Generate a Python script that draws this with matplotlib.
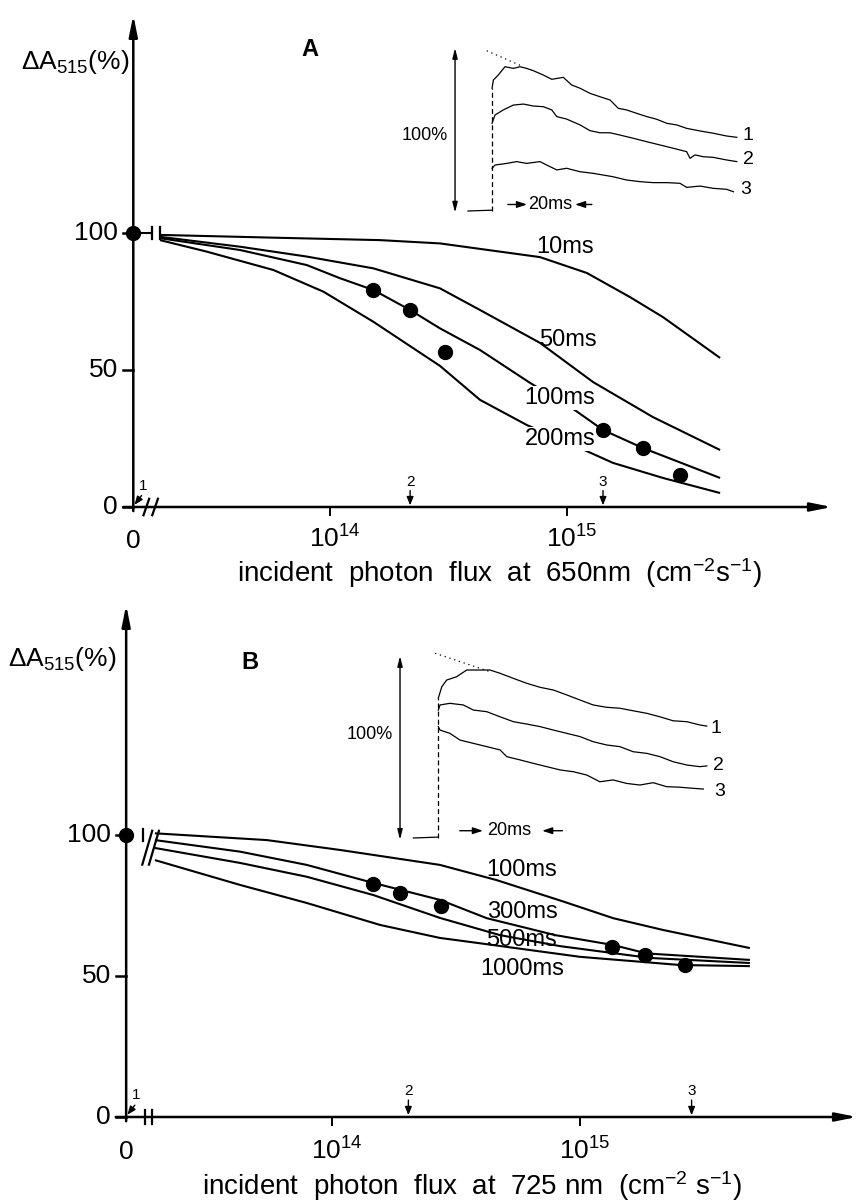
import matplotlib.pyplot as plt

plt.rcParams['font.family'] = ['Liberation Sans Narrow', 'Liberation Sans', 'DejaVu Sans']
plt.rcParams['mathtext.default'] = 'regular'

FIG_W, FIG_H = 858, 1203

# x values are log10(incident photon flux); the "0" flux sits left of the axis break
ZERO = 13.17

# ---------------- panel A : 650 nm ----------------
A_ms10_x = [13.283, 13.761, 14.211, 14.464, 14.886, 15.084, 15.266, 15.405, 15.646]
A_ms10_y = [99.3, 98.3, 97.4, 96.2, 91.2, 85.4, 76.6, 69.3, 54.4]
A_ms50_x = [13.283, 13.620, 13.902, 14.183, 14.464, 14.633, 14.886, 15.110, 15.363, 15.646]
A_ms50_y = [98.6, 95.0, 91.4, 87.1, 79.8, 71.9, 59.9, 45.6, 32.8, 20.8]
A_ms100_x = [13.283, 13.620, 13.902, 14.042, 14.183, 14.338, 14.464, 14.633, 14.844, 15.021, 15.152, 15.321, 15.646]
A_ms100_y = [98.1, 93.8, 88.3, 83.5, 79.2, 71.9, 65.2, 57.3, 45.3, 36.1, 28.1, 21.5, 10.6]
A_ms200_x = [13.283, 13.480, 13.761, 13.972, 14.183, 14.464, 14.633, 14.831, 15.055, 15.194, 15.405, 15.646]
A_ms200_y = [97.4, 93.2, 86.5, 78.6, 67.6, 51.5, 39.1, 29.9, 21.5, 16.1, 10.6, 5.1]
A_names = ['10ms', '50ms', '100ms', '200ms']
A_name_x = [14.992, 15.004, 14.970, 14.970]
A_name_y = [94.9, 60.9, 39.8, 24.8]
A_dots_x = [ZERO, 14.183, 14.338, 14.485, 15.152, 15.321, 15.477]
A_dots_y = [100, 79.2, 71.9, 56.6, 28.1, 21.5, 11.7]
A_marks_x = [14.338, 15.152]

# inset A : time (ms) after flash, signal (% of full scale)
A_tr1_t = [0, 0.6, 2.6, 5.4, 8.9, 11.7, 14.4, 17.2, 21.4, 24.9, 29.7, 33.2, 36.7, 40.8, 45.0, 49.2,
           52.6, 56.1, 60.3, 64.5, 68.6, 72.8, 77.0, 81.1, 86.7, 92.2, 97.8, 102.0]
A_tr1_a = [75.3, 80.4, 83.4, 88.5, 87.5, 88.5, 87.5, 86.1, 83.4, 80.8, 82.0, 77.3, 75.3, 72.2, 70.1, 68.1,
           63.0, 62.0, 59.9, 57.9, 56.3, 53.8, 52.8, 50.7, 49.1, 47.7, 46.0, 45.2]
A_tr2_t = [0, 1.25, 4.7, 8.9, 13.1, 17.2, 21.4, 24.9, 27.0, 31.1, 36.7, 40.8, 45.0, 49.2, 53.3, 58.9,
           64.5, 70.0, 75.5, 81.1, 82.5, 84.6, 88.1, 92.2, 97.8, 102.0]
A_tr2_a = [53.8, 58.9, 62.0, 65.0, 65.6, 64.4, 64.0, 62.0, 57.9, 56.4, 52.8, 49.3, 48.0, 48.0, 46.6, 44.6,
           42.5, 40.5, 38.5, 36.4, 32.3, 34.4, 33.3, 32.9, 31.3, 30.3]
A_tr3_t = [0, 1.25, 6.1, 10.3, 14.4, 20.0, 22.8, 27.0, 31.1, 36.7, 42.2, 50.5, 56.1, 61.7, 67.2, 72.8,
           78.3, 81.1, 86.7, 92.2, 97.8, 100.6]
A_tr3_a = [26.2, 28.2, 29.2, 30.3, 29.2, 30.3, 28.2, 25.2, 26.2, 24.1, 23.1, 21.0, 19.0, 18.0, 17.4, 17.4,
           17.0, 14.5, 15.3, 13.9, 13.3, 11.8]

# ---------------- panel B : 725 nm ----------------
B_ms100_x = [13.286, 13.737, 14.032, 14.435, 14.664, 14.933, 15.134, 15.336, 15.685]
B_ms100_y = [100.6, 98.2, 94.7, 89.4, 84.0, 76.4, 70.5, 66.3, 59.9]
B_ms300_x = [13.286, 13.629, 13.898, 14.167, 14.435, 14.624, 14.900, 15.133, 15.269, 15.685]
B_ms300_y = [98.2, 94.1, 89.4, 83.0, 77.0, 70.5, 64.5, 61.0, 58.0, 55.7]
B_ms500_x = [13.286, 13.629, 13.898, 14.167, 14.435, 14.677, 14.919, 15.282, 15.685]
B_ms500_y = [95.4, 90.1, 85.2, 78.7, 70.6, 64.5, 60.6, 56.4, 54.6]
B_ms1000_x = [13.286, 13.629, 13.898, 14.194, 14.435, 14.597, 15.000, 15.403, 15.685]
B_ms1000_y = [91.1, 82.3, 75.9, 68.1, 63.5, 61.6, 56.8, 53.9, 53.5]
B_names = ['100ms', '300ms', '500ms', '1000ms']
B_name_x = [14.766, 14.766, 14.766, 14.766]
B_name_y = [87.6, 72.7, 62.8, 52.5]
B_dots_x = [ZERO, 14.165, 14.274, 14.440, 15.128, 15.262, 15.423]
B_dots_y = [100, 82.6, 79.4, 74.8, 60.4, 57.4, 53.9]
B_marks_x = [14.308, 15.450]

B_tr1_t = [0, 1.2, 2.9, 6.3, 9.8, 14.4, 17.8, 21.3, 25.9, 30.5, 35.1, 39.7, 44.3, 48.9, 53.4, 58.1,
           62.6, 67.2, 71.9, 76.4, 81.0, 85.7, 90.2, 92.6]
B_tr1_a = [76.8, 83.1, 86.8, 88.6, 92.3, 92.3, 92.3, 90.5, 87.7, 85.0, 82.8, 81.3, 78.6, 75.8, 73.1, 71.8,
           71.3, 69.9, 68.5, 66.6, 64.4, 63.9, 62.1, 61.5]
B_tr2_t = [0, 0.6, 4.0, 8.6, 12.1, 16.7, 21.3, 25.9, 30.5, 35.1, 39.7, 44.3, 48.9, 53.4, 58.1, 62.6,
           67.2, 71.9, 76.4, 81.0, 85.7, 90.2, 92.6]
B_tr2_a = [70.3, 73.1, 74.0, 73.1, 70.3, 69.4, 66.6, 63.9, 62.6, 61.2, 59.3, 57.5, 55.7, 52.9, 51.1, 50.2,
           47.4, 46.5, 44.7, 41.9, 40.1, 39.2, 39.6]
B_tr3_t = [0, 0.6, 4.0, 7.5, 12.1, 16.7, 21.3, 23.6, 28.2, 32.8, 37.4, 42.0, 46.6, 51.2, 55.7, 60.3,
           64.9, 69.5, 74.1, 78.7, 83.3, 87.9, 91.4]
B_tr3_a = [61.2, 59.3, 57.5, 53.8, 52.0, 50.2, 48.4, 44.7, 42.9, 41.0, 39.2, 37.4, 36.4, 34.6, 30.9, 31.9,
           30.0, 29.1, 30.4, 28.2, 27.9, 27.3, 26.9]


def add_axes_px(fig, x_ref, px_ref, px_per_x, y_ref, py_ref, py_per_y, xlim, ylim):
    # place an axes so that data units land on the wanted pixels
    left = px_ref + (xlim[0] - x_ref) * px_per_x
    right = px_ref + (xlim[1] - x_ref) * px_per_x
    top = py_ref - (ylim[1] - y_ref) * py_per_y
    bottom = py_ref - (ylim[0] - y_ref) * py_per_y
    ax = fig.add_axes([left / FIG_W, 1 - bottom / FIG_H, (right - left) / FIG_W, (bottom - top) / FIG_H])
    ax.set_xlim(xlim)
    ax.set_ylim(ylim)
    ax.axis('off')
    ax.patch.set_alpha(0)
    return ax


def breaks(ax, xs, y, h, slant, lw=1.6):
    for x in xs:
        ax.plot([x - slant, x + slant], [y - h, y + h], color='k', lw=lw, clip_on=False)


def main_panel(ax, curves, names, name_x, name_y, boxed, dots_x, dots_y, marks_x,
               ytop, xend, xlabel, xlabel_x, letter, letter_x, letter_y):
    arrow = dict(arrowstyle='-|>,head_length=0.9,head_width=0.18', color='k', lw=1.8,
                 mutation_scale=14, shrinkA=0, shrinkB=0)
    ax.annotate('', xy=(ZERO, ytop), xytext=(ZERO, -1.5), arrowprops=arrow, annotation_clip=False)
    ax.annotate('', xy=(xend, 0), xytext=(ZERO - 0.042, 0), arrowprops=arrow, annotation_clip=False)

    for v in [0, 50, 100]:
        ax.plot([ZERO - 0.042, ZERO], [v, v], color='k', lw=1.8, clip_on=False)
        ax.annotate(str(v), xy=(ZERO, v), xytext=(-11, 0), textcoords='offset points',
                    ha='right', va='center', fontsize=19)
    for v, lab in zip([14, 15], ['$10^{14}$', '$10^{15}$']):
        ax.plot([v, v], [0, -2.9], color='k', lw=1.4)
        ax.text(v + 0.02, -15, lab, ha='center', va='baseline', fontsize=19)
    ax.text(ZERO, -15, '0', ha='center', va='baseline', fontsize=19)
    ax.text(xlabel_x, -27.5, xlabel, ha='center', va='baseline', fontsize=20)
    ax.text(12.695, 160, r'$\Delta A_{515}$(%)', ha='left', va='baseline', fontsize=19)
    ax.text(letter_x, letter_y, letter, ha='center', va='center', fontsize=17, fontweight='bold')

    for (cx, cy) in curves:
        ax.plot(cx, cy, color='k', lw=1.5, solid_capstyle='butt')
    for t, x, y, b in zip(names, name_x, name_y, boxed):
        bb = dict(facecolor='white', edgecolor='none', pad=0.5) if b else None
        ax.text(x, y, t, ha='center', va='center', fontsize=17, bbox=bb)
    ax.plot(dots_x, dots_y, 'o', color='k', markersize=10, clip_on=False)

    # flux marks 1, 2, 3 on the abscissa
    small = dict(arrowstyle='-|>,head_length=0.5,head_width=0.2', color='k', lw=1.0,
                 mutation_scale=10, shrinkA=0, shrinkB=0)
    ax.annotate('', xy=(ZERO + 0.005, 0.8), xytext=(ZERO + 0.035, 4.2), arrowprops=small)
    ax.text(ZERO + 0.042, 5.2, '1', ha='center', va='bottom', fontsize=11)
    for i, x in enumerate(marks_x):
        ax.annotate('', xy=(x, 0.6), xytext=(x, 6.0), arrowprops=small)
        ax.text(x, 6.6, str(i + 2), ha='center', va='bottom', fontsize=11)


def inset(ax, traces, arrow_t, base_t0, dotted_t, dotted_a, label_t, label_a, pct_t, pct_a,
          ms_left, ms_mid, ms_right):
    for t, a in traces:
        ax.plot(t, a, color='k', lw=0.9)
    ax.plot([base_t0, 0], [0, 0.5], color='k', lw=0.9)
    ax.plot([0, 0], [0, traces[0][1][0]], color='k', lw=0.9, ls=(0, (4, 2.5)))
    ax.plot(dotted_t, dotted_a, color='k', lw=0.9, ls=(0, (1, 3)))
    ax.annotate('', xy=(arrow_t, 100), xytext=(arrow_t, -1),
                arrowprops=dict(arrowstyle='<|-|>,head_length=0.6,head_width=0.15', color='k', lw=1.0,
                                mutation_scale=10, shrinkA=0, shrinkB=0))
    ax.text(pct_t, pct_a, '100%', ha='right', va='center', fontsize=13)
    for i, (t, a) in enumerate(zip(label_t, label_a)):
        ax.text(t, a, str(i + 1), ha='left', va='center', fontsize=14)
    # "-> 20ms <-" scale bar
    small = dict(arrowstyle='-|>,head_length=0.6,head_width=0.2', color='k', lw=1.0,
                 mutation_scale=10, shrinkA=0, shrinkB=0)
    ax.annotate('', xy=(ms_left, 4), xytext=(ms_left - 8, 4), arrowprops=small)
    ax.annotate('', xy=(ms_right, 4), xytext=(ms_right + 7, 4), arrowprops=small)
    ax.text(ms_mid, 4, '20ms', ha='center', va='center', fontsize=13)


fig = plt.figure(figsize=(FIG_W / 100, FIG_H / 100), dpi=100)

# panel A: 10^14 at px 330, one decade = 237 px ; 0 % at py 507, 2.74 px per %
axA = add_axes_px(fig, 14, 330, 237, 0, 507, 2.74, (12.70, 16.20), (-20, 182))
main_panel(axA,
           [(A_ms10_x, A_ms10_y), (A_ms50_x, A_ms50_y), (A_ms100_x, A_ms100_y), (A_ms200_x, A_ms200_y)],
           A_names, A_name_x, A_name_y, [False, False, True, True], A_dots_x, A_dots_y, A_marks_x,
           179.6, 16.118, 'incident  photon  flux  at  650nm  (cm$^{-2}$s$^{-1}$)', 14.713,
           'A', 13.916, 166.8)
axA.plot([ZERO, 13.249], [100, 100], color='k', lw=1.5)
breaks(axA, [13.249, 13.283], 100, 2.3, 0)
breaks(axA, [13.225, 13.262], 0, 3.0, 0.012)

# panel B: 10^14 at px 332, one decade = 248 px ; 0 % at py 1117, 2.82 px per %
axB = add_axes_px(fig, 14, 332, 248, 0, 1117, 2.82, (12.75, 16.10), (-20, 183))
main_panel(axB,
           [(B_ms100_x, B_ms100_y), (B_ms300_x, B_ms300_y), (B_ms500_x, B_ms500_y), (B_ms1000_x, B_ms1000_y)],
           B_names, B_name_x, B_name_y, [False, False, False, False], B_dots_x, B_dots_y, B_marks_x,
           181.6, 16.117, 'incident  photon  flux  at  725 nm  (cm$^{-2}$ s$^{-1}$)', 14.5625,
           'B', 13.669, 161)
breaks(axB, [13.238], 100, 2.2, 0)
breaks(axB, [13.255, 13.282], 95.5, 6.0, 0.02)
breaks(axB, [13.246, 13.274], 0, 2.6, 0)

# inset A: flash at px 492, 2.4 px per ms ; baseline at py 211, 1.63 px per %
insA = add_axes_px(fig, 0, 492, 2.4, 0, 211, 1.63, (-35, 110), (-5, 105))
inset(insA, [(A_tr1_t, A_tr1_a), (A_tr2_t, A_tr2_a), (A_tr3_t, A_tr3_a)],
      -15.4, -10, [-2.2, 13.1], [98.3, 88.5], [104.5, 104.5, 103.5], [46.6, 31.3, 12.9],
      -18.3, 46.6, 14.6, 24.2, 34.6)

# inset B: flash at px 438, 2.9 px per ms ; baseline at py 838, 1.82 px per %
insB = add_axes_px(fig, 0, 438.3, 2.9, 0, 838, 1.82, (-35, 110), (-5, 105))
inset(insB, [(B_tr1_t, B_tr1_a), (B_tr2_t, B_tr2_a), (B_tr3_t, B_tr3_a)],
      -13.2, -8.6, [-1.1, 17.8], [101.5, 91.4], [94.0, 94.7, 95.3], [60.4, 40.1, 25.4],
      -15.6, 56.8, 15.4, 24.4, 35.8)

fig.savefig('out.png', dpi=100)
